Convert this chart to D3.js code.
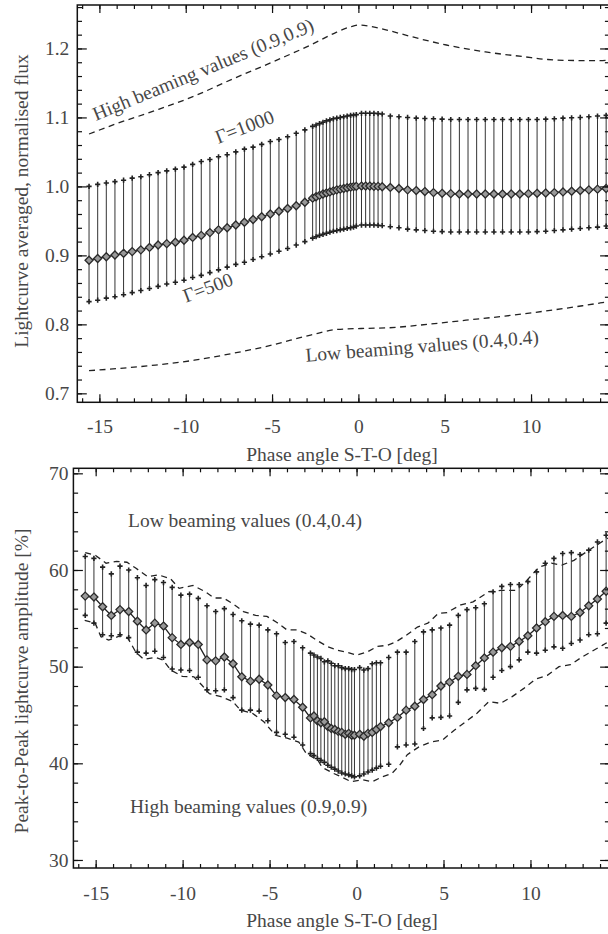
<!DOCTYPE html>
<html>
<head>
<meta charset="utf-8">
<script src="https://cdn.jsdelivr.net/npm/d3@7"></script>
<style>
    body { margin: 0; background: #fff; }
    svg text { font-family: "Liberation Serif", "DejaVu Serif", serif; fill: #474747; }
</style>
</head>
<body>
<div id="chart"></div>
<script>
// phase angle of each observation (deg)
var phase = [
    -15.6, -15.1, -14.6, -14.1, -13.6, -13.1, -12.6, -12.1, -11.6, -11.1, -10.6, -10.1, -9.6,
    -9.1, -8.6, -8.1, -7.6, -7.1, -6.6, -6.1, -5.6, -5.1, -4.6, -4.1, -3.6, -3.1,
    -2.65, -2.45, -2.25, -2.05, -1.85, -1.65, -1.45, -1.25, -1.05, -0.85, -0.65, -0.45, -0.28, -0.12,
    0.18, 0.42, 0.66, 0.9, 1.14, 1.38,
    1.85, 2.35, 2.85, 3.35, 3.85, 4.35, 4.85, 5.35, 5.85, 6.35, 6.85, 7.35, 7.85,
    8.35, 8.85, 9.35, 9.85, 10.35, 10.85, 11.35, 11.85, 12.35, 12.85, 13.35, 13.85, 14.35
];

// top panel: averaged normalised flux
var fluxMean = [
    0.893, 0.8955, 0.898, 0.9005, 0.903, 0.9055, 0.908, 0.9115, 0.915, 0.917, 0.919, 0.922, 0.926,
    0.929, 0.933, 0.937, 0.940, 0.944, 0.948, 0.952, 0.956, 0.960, 0.964, 0.968, 0.972, 0.977,
    0.983, 0.985, 0.987, 0.989, 0.9905, 0.992, 0.9935, 0.995, 0.996, 0.997, 0.998, 0.999, 0.9997, 1.0,
    1.0005, 1.0005, 1.0005, 1.0, 1.0, 0.9995,
    0.9985, 0.997, 0.995, 0.994, 0.9925, 0.991, 0.990, 0.9895, 0.989, 0.989, 0.989, 0.989, 0.989,
    0.989, 0.989, 0.989, 0.9895, 0.990, 0.9905, 0.991, 0.992, 0.993, 0.994, 0.995, 0.996, 0.997
];
var fluxGamma1000 = [
    1.000, 1.003, 1.005, 1.007, 1.009, 1.012, 1.014, 1.017, 1.020, 1.0225, 1.025, 1.028, 1.032,
    1.036, 1.039, 1.043, 1.046, 1.050, 1.054, 1.057, 1.061, 1.065, 1.068, 1.072, 1.077, 1.082,
    1.087, 1.089, 1.091, 1.093, 1.095, 1.0965, 1.098, 1.099, 1.100, 1.101, 1.102, 1.103, 1.1035, 1.104,
    1.106, 1.106, 1.106, 1.106, 1.1055, 1.105,
    1.102, 1.101, 1.100, 1.099, 1.0985, 1.098, 1.0975, 1.097, 1.097, 1.097, 1.097, 1.097, 1.097,
    1.097, 1.097, 1.097, 1.097, 1.097, 1.0975, 1.098, 1.099, 1.0995, 1.100, 1.101, 1.102, 1.103
];
var fluxGamma500 = [
    0.833, 0.835, 0.838, 0.840, 0.843, 0.846, 0.849, 0.852, 0.855, 0.8585, 0.861, 0.864, 0.868,
    0.871, 0.875, 0.879, 0.883, 0.887, 0.890, 0.894, 0.898, 0.902, 0.906, 0.910, 0.915, 0.920,
    0.925, 0.927, 0.929, 0.9305, 0.932, 0.9335, 0.935, 0.936, 0.937, 0.938, 0.939, 0.940, 0.941, 0.9425,
    0.944, 0.944, 0.944, 0.944, 0.9435, 0.943,
    0.9415, 0.940, 0.938, 0.937, 0.936, 0.935, 0.9345, 0.934, 0.934, 0.934, 0.934, 0.934, 0.934,
    0.934, 0.934, 0.934, 0.934, 0.9345, 0.935, 0.936, 0.937, 0.938, 0.939, 0.940, 0.941, 0.9425
];
var highBeamPhase = [-15.6, -14.0, -11.76, -9.5, -7.26, -5.0, -4.5, -2.77, -1.4, -0.5, 0.05, 0.6, 1.28, 3.09, 5.1, 7.36, 9.6, 10.96, 12.5, 14.0, 14.4];
var highBeamFlux = [1.076, 1.091, 1.110, 1.131, 1.156, 1.180, 1.1855, 1.205, 1.222, 1.231, 1.234, 1.2325, 1.229, 1.217, 1.205, 1.195, 1.188, 1.184, 1.1825, 1.1825, 1.183];
var lowBeamPhase = [-15.6, -11.76, -9.5, -7.26, -5.0, -2.77, -1.2, 0.16, 1.74, 3.99, 6.23, 8.48, 10.73, 12.98, 14.0, 14.5];
var lowBeamFlux = [0.7328, 0.741, 0.748, 0.758, 0.770, 0.7845, 0.7927, 0.794, 0.795, 0.800, 0.806, 0.812, 0.819, 0.827, 0.831, 0.833];

// bottom panel: peak-to-peak amplitude (%)
var ampMean = [
    57.3, 57.2, 56.2, 55.3, 55.9, 55.7, 54.7, 53.8, 54.5, 54.2, 53.0, 52.3, 52.5,
    52.3, 50.7, 50.6, 51.0, 50.3, 48.95, 48.5, 48.7, 48.1, 47.0, 46.8, 46.6, 45.8,
    44.7, 44.9, 44.4, 44.2, 44.3, 43.8, 43.6, 43.5, 43.3, 43.2, 43.0, 43.1, 42.9, 42.9,
    43.0, 42.8, 43.1, 43.2, 43.5, 43.8,
    44.2, 44.75, 45.5, 45.9, 46.6, 47.1, 48.0, 48.4, 49.0, 49.2, 50.1, 50.9, 51.5,
    51.95, 52.1, 52.6, 53.2, 54.0, 54.65, 55.2, 55.3, 55.2, 55.6, 56.3, 57.0, 57.8
];
var ampGamma1000 = [
    61.4, 61.2, 60.3, 59.6, 60.4, 60.0, 59.2, 58.4, 59.0, 58.7, 58.2, 57.4, 57.5,
    57.06, 56.3, 55.7, 56.0, 55.4, 54.75, 54.4, 54.3, 53.8, 53.4, 52.5, 52.6, 51.95,
    51.4, 51.2, 51.0, 50.85, 50.5, 50.6, 50.35, 50.1, 50.1, 49.9, 49.8, 49.8, 49.7, 49.7,
    49.9, 49.65, 49.8, 50.3, 50.4, 50.4,
    50.95, 51.5, 51.5, 52.6, 53.6, 53.8, 54.0, 54.3, 55.3, 55.9, 56.1, 56.5, 57.75,
    58.3, 58.5, 58.5, 58.8, 59.8, 60.7, 61.2, 61.7, 61.8, 61.6, 62.06, 62.9, 63.6
];
var ampGamma500 = [
    55.3, 54.5, 53.3, 53.2, 53.3, 53.0, 51.5, 51.4, 51.6, 50.95, 49.75, 49.65, 49.6,
    48.9, 47.6, 47.5, 47.6, 46.8, 45.5, 45.5, 45.4, 44.4, 43.2, 43.0, 42.7, 41.9,
    41.0, 40.8, 40.5, 40.3, 40.1, 39.8, 39.6, 39.4, 39.2, 39.0, 38.9, 38.8, 38.7, 38.6,
    38.7, 38.9, 39.1, 39.3, 39.5, 39.7,
    39.9, 41.7, 41.9, 42.0, 43.6, 44.7, 44.75, 44.9, 46.3, 47.6, 47.75, 47.65, 48.9,
    49.6, 50.0, 50.7, 51.5, 51.4, 51.7, 52.05, 51.9, 52.4, 52.75, 53.3, 53.4, 54.5
];
var ampLowBeamPhase = [
    -15.6, -15.0, -14.4, -13.8, -13.2, -12.7, -12.0, -11.4, -10.7, -10.2, -9.4, -8.7, -8.2, -7.65, -7.1,
    -6.5, -5.8, -5.15, -4.6, -4.0, -3.4, -2.85, -2.3, -1.7, -1.1, -0.55, 0.0, 0.6, 1.2, 1.75,
    2.3, 2.9, 3.5, 4.1, 4.7, 5.2, 6.0, 6.7, 7.6, 8.3, 9.2, 9.8, 10.5, 11.2, 11.8, 12.5, 13.4, 14.0, 14.45
];
var ampLowBeam = [
    61.8, 61.5, 60.7, 60.9, 60.8, 60.2, 59.3, 59.5, 59.1, 58.1, 58.4, 57.75, 57.1, 57.1, 56.5,
    55.7, 55.3, 55.2, 54.6, 53.8, 53.8, 53.4, 52.75, 52.1, 51.7, 51.5, 51.2, 51.5, 52.1, 52.2,
    52.6, 53.3, 54.1, 54.5, 55.5, 55.6, 56.4, 56.7, 57.75, 57.9, 57.9, 58.95, 60.3, 60.7, 60.5, 61.0, 62.1, 62.8, 63.3
];
var ampHighBeamPhase = [
    -15.63, -15.03, -14.7, -14.25, -13.58, -13.13, -12.69, -12.24, -11.57, -11.13,
    -10.69, -10.02, -9.35, -8.9, -8.46, -7.79, -7.12, -6.67, -6.0, -5.33,
    -4.66, -3.99, -3.32, -2.88, -2.21, -1.99, -1.32, -0.87, -0.31, 0.35,
    0.91, 1.47, 2.03, 2.48, 2.92, 3.59, 4.26, 4.93, 5.6, 6.27,
    6.94, 7.61, 8.28, 8.95, 9.62, 10.29, 10.97, 11.64, 12.3, 12.97, 13.64, 14.13, 14.5
];
var ampHighBeam = [
    54.8, 54.5, 53.1, 52.75, 53.2, 52.9, 51.5, 50.75, 50.95, 50.7,
    49.65, 49.0, 48.95, 48.1, 47.2, 46.9, 46.4, 45.5, 45.2, 44.3,
    42.9, 42.6, 42.2, 41.0, 40.3, 39.6, 38.95, 38.6, 38.1, 38.3,
    38.1, 38.6, 38.95, 39.8, 40.9, 41.7, 42.2, 42.4, 43.4, 44.3,
    45.2, 46.4, 46.2, 46.9, 47.75, 48.7, 49.1, 50.0, 50.2, 51.0, 51.7, 52.2, 52.6
];

var xTicks = [-15, -10, -5, 0, 5, 10];
var fluxTicks = [0.7, 0.8, 0.9, 1.0, 1.1, 1.2];
var ampTicks = [30, 40, 50, 60, 70];

var width = 608,
    height = 934,
    fontSize = '19.5px'
;

var svg = d3
    .select('#chart')
    .append('svg')
    .attr('width', width)
    .attr('height', height)
;

function styleAxis(g) {
    g.select('.domain').remove();
    g.attr('font-family', null).attr('font-size', null);
    g.selectAll('line').attr('stroke', '#111').attr('stroke-width', 1.2);
    g.selectAll('text').attr('fill', null).style('font-size', fontSize);
}

function drawFrame(p) {
    var x = p.x, y = p.y;
    var minorX = d3.range(-16, 15);

    // bottom
    svg.append('g')
        .attr('transform', 'translate(0,' + p.bottom + ')')
        .call(d3.axisBottom(x).tickValues(minorX).tickSizeInner(-4).tickSizeOuter(0).tickFormat(''))
        .call(styleAxis);
    svg.append('g')
        .attr('transform', 'translate(0,' + p.bottom + ')')
        .call(d3.axisBottom(x).tickValues(xTicks).tickSizeInner(-8).tickSizeOuter(0).tickFormat(String))
        .call(styleAxis)
        .selectAll('text').attr('y', p.xLabelOffset).attr('dy', 0);
    // top
    svg.append('g')
        .attr('transform', 'translate(0,' + p.top + ')')
        .call(d3.axisTop(x).tickValues(minorX).tickSizeInner(-4).tickSizeOuter(0).tickFormat(''))
        .call(styleAxis);
    svg.append('g')
        .attr('transform', 'translate(0,' + p.top + ')')
        .call(d3.axisTop(x).tickValues(xTicks).tickSizeInner(-8).tickSizeOuter(0).tickFormat(''))
        .call(styleAxis);
    // left
    svg.append('g')
        .attr('transform', 'translate(' + p.left + ',0)')
        .call(d3.axisLeft(y).tickValues(p.yMinor).tickSizeInner(-4.7).tickSizeOuter(0).tickFormat(''))
        .call(styleAxis);
    svg.append('g')
        .attr('transform', 'translate(' + p.left + ',0)')
        .call(d3.axisLeft(y).tickValues(p.yTicks).tickSizeInner(-9.5).tickSizeOuter(0).tickPadding(p.yLabelPad).tickFormat(p.yFormat))
        .call(styleAxis);
    // right
    svg.append('g')
        .attr('transform', 'translate(' + p.right + ',0)')
        .call(d3.axisRight(y).tickValues(p.yMinor).tickSizeInner(-4.7).tickSizeOuter(0).tickFormat(''))
        .call(styleAxis);
    svg.append('g')
        .attr('transform', 'translate(' + p.right + ',0)')
        .call(d3.axisRight(y).tickValues(p.yTicks).tickSizeInner(-9.5).tickSizeOuter(0).tickFormat(''))
        .call(styleAxis);

    svg.append('rect')
        .attr('x', p.left)
        .attr('y', p.top)
        .attr('width', p.right - p.left)
        .attr('height', p.bottom - p.top)
        .attr('fill', 'none')
        .attr('stroke', '#111')
        .attr('stroke-width', 1.5);

    svg.append('text')
        .attr('x', 342)
        .attr('y', p.xTitleY)
        .attr('text-anchor', 'middle')
        .style('font-size', fontSize)
        .text('Phase angle S-T-O [deg]');

    svg.append('text')
        .attr('transform', 'translate(27.5,' + p.yTitleY + ') rotate(-90)')
        .attr('text-anchor', 'middle')
        .style('font-size', fontSize)
        .text(p.yTitle);
}

function drawErrors(p, mean, hi, lo) {
    var x = p.x, y = p.y;
    var rows = phase.map(function(d, i) {
        return { phase: d, mean: mean[i], hi: hi[i], lo: lo[i] };
    });
    var g = svg.append('g');

    g.selectAll('line.err')
        .data(rows)
        .enter()
        .append('line')
        .attr('class', 'err')
        .attr('x1', function(d) { return x(d.phase); })
        .attr('x2', function(d) { return x(d.phase); })
        .attr('y1', function(d) { return y(d.lo); })
        .attr('y2', function(d) { return y(d.hi); })
        .attr('stroke', '#333')
        .attr('stroke-width', 1)
    ;

    var caps = [];
    rows.forEach(function(d) {
        caps.push({ phase: d.phase, v: d.lo });
        caps.push({ phase: d.phase, v: d.hi });
    });
    g.selectAll('path.cap')
        .data(caps)
        .enter()
        .append('path')
        .attr('class', 'cap')
        .attr('transform', function(d) { return 'translate(' + x(d.phase) + ',' + y(d.v) + ')'; })
        .attr('d', 'M-2.6,0H2.6M0,-2.6V2.6')
        .attr('stroke', '#222')
        .attr('stroke-width', 1.6)
    ;

    var line = d3.line()
        .x(function(d) { return x(d.phase); })
        .y(function(d) { return y(d.mean); })
    ;
    g.append('path')
        .datum(rows)
        .attr('d', line)
        .attr('fill', 'none')
        .attr('stroke', '#222')
        .attr('stroke-width', 1.3)
    ;

    g.selectAll('path.dia')
        .data(rows)
        .enter()
        .append('path')
        .attr('class', 'dia')
        .attr('transform', function(d) { return 'translate(' + x(d.phase) + ',' + y(d.mean) + ')'; })
        .attr('d', 'M0,-4L4,0L0,4L-4,0Z')
        .attr('fill', '#999')
        .attr('stroke', '#2a2a2a')
        .attr('stroke-width', 1.3)
    ;
}

function drawDashed(p, xs, ys, curve) {
    var pts = xs.map(function(d, i) { return [p.x(d), p.y(ys[i])]; });
    svg.append('path')
        .datum(pts)
        .attr('d', d3.line().curve(curve))
        .attr('fill', 'none')
        .attr('stroke', '#222')
        .attr('stroke-width', 1.3)
        .attr('stroke-dasharray', '6,4.5')
    ;
}

function label(txt, x, y, angle) {
    svg.append('text')
        .attr('transform', 'translate(' + x + ',' + y + ') rotate(' + angle + ')')
        .style('font-size', fontSize)
        .text(txt);
}

// ---- top panel ----
var fluxPanel = {
    left: 77.3, right: 609.6, top: 5, bottom: 402.3,
    yTicks: fluxTicks,
    yMinor: d3.range(0.70, 1.27, 0.02),
    yFormat: d3.format('.1f'),
    yLabelPad: 8,
    xLabelOffset: 30.7,
    xTitleY: 461,
    yTitleY: 201,
    yTitle: 'Lightcurve averaged, normalised flux'
};
fluxPanel.x = d3.scaleLinear().domain([-16.28, 14.55]).range([fluxPanel.left, fluxPanel.right]);
fluxPanel.y = d3.scaleLinear().domain([0.687, 1.263]).range([fluxPanel.bottom, fluxPanel.top]);

drawDashed(fluxPanel, highBeamPhase, highBeamFlux, d3.curveMonotoneX);
drawDashed(fluxPanel, lowBeamPhase, lowBeamFlux, d3.curveMonotoneX);
drawErrors(fluxPanel, fluxMean, fluxGamma1000, fluxGamma500);
drawFrame(fluxPanel);

label('High beaming values (0.9,0.9)', 96, 121, -22.5);
label('\u0393=1000', 218.3, 144, -21);
label('\u0393=500', 186, 302.7, -20.5);
label('Low beaming values (0.4,0.4)', 306, 361.7, -4.5);

// ---- bottom panel ----
var ampPanel = {
    left: 73.4, right: 609.6, top: 468.3, bottom: 868,
    yTicks: ampTicks,
    yMinor: d3.range(30, 71, 2),
    yFormat: d3.format('d'),
    yLabelPad: 5,
    xLabelOffset: 32,
    xTitleY: 926.7,
    yTitleY: 681,
    yTitle: 'Peak-to-Peak lightcurve amplitude [%]'
};
ampPanel.x = d3.scaleLinear().domain([-16.28, 14.55]).range([ampPanel.left, ampPanel.right]);
ampPanel.y = d3.scaleLinear().domain([29.17, 70.52]).range([ampPanel.bottom, ampPanel.top]);

drawDashed(ampPanel, ampLowBeamPhase, ampLowBeam, d3.curveLinear);
drawDashed(ampPanel, ampHighBeamPhase, ampHighBeam, d3.curveLinear);
drawErrors(ampPanel, ampMean, ampGamma1000, ampGamma500);
drawFrame(ampPanel);

label('Low beaming values (0.4,0.4)', 128, 526.7, 0);
label('High beaming values (0.9,0.9)', 130, 813, 0);
</script>
</body>
</html>
